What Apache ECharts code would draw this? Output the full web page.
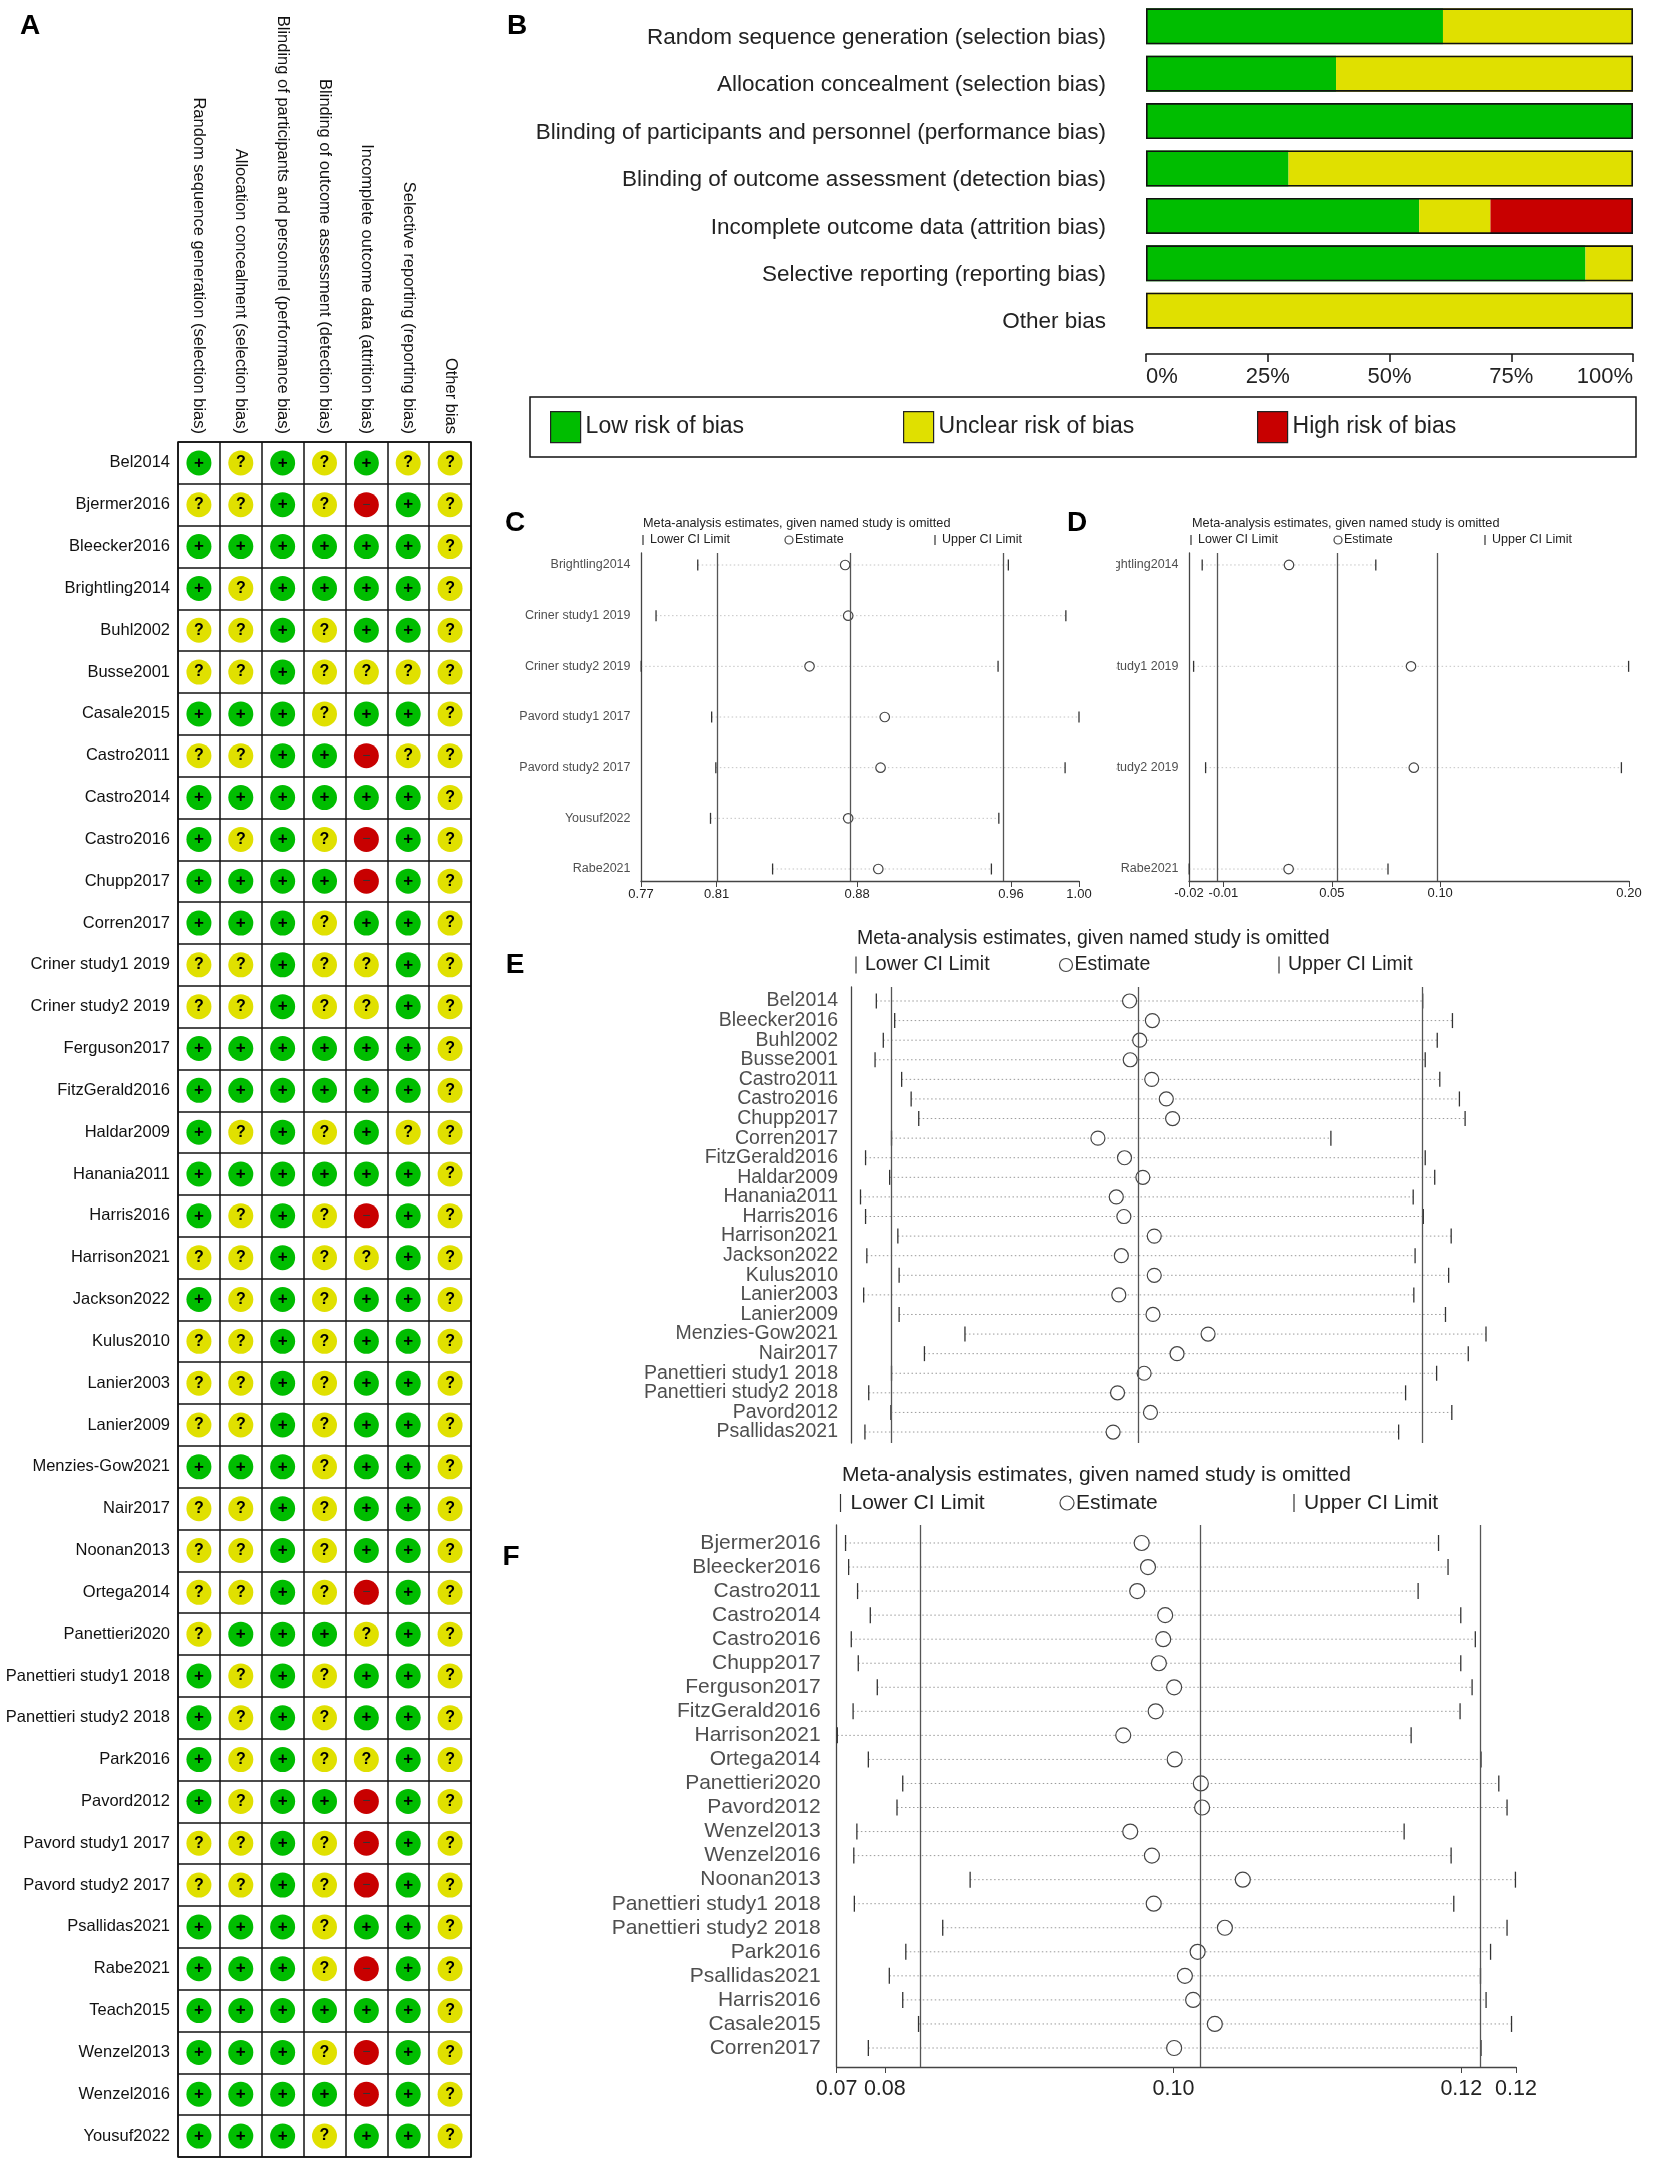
<!DOCTYPE html>
<html><head><meta charset="utf-8">
<script src="https://cdn.jsdelivr.net/npm/echarts@6/dist/echarts.min.js"></script>
<style>
html,body{margin:0;padding:0;background:#fff;}
#main{position:absolute;left:0;top:0;width:1654px;height:2168px;}
#panelD{position:absolute;left:1116px;top:500px;width:538px;height:420px;}
</style>
</head><body>
<div id="main"></div><div id="panelD"></div>
<script>
const FONT = "'Liberation Sans', Arial, Helvetica, sans-serif";

// ---------- Panel A / B data ----------
const domains = [
  'Random sequence generation (selection bias)',
  'Allocation concealment (selection bias)',
  'Blinding of participants and personnel (performance bias)',
  'Blinding of outcome assessment (detection bias)',
  'Incomplete outcome data (attrition bias)',
  'Selective reporting (reporting bias)',
  'Other bias'
];
const studiesA = ['Bel2014','Bjermer2016','Bleecker2016','Brightling2014','Buhl2002','Busse2001','Casale2015','Castro2011','Castro2014','Castro2016','Chupp2017','Corren2017','Criner study1 2019','Criner study2 2019','Ferguson2017','FitzGerald2016','Haldar2009','Hanania2011','Harris2016','Harrison2021','Jackson2022','Kulus2010','Lanier2003','Lanier2009','Menzies-Gow2021','Nair2017','Noonan2013','Ortega2014','Panettieri2020','Panettieri study1 2018','Panettieri study2 2018','Park2016','Pavord2012','Pavord study1 2017','Pavord study2 2017','Psallidas2021','Rabe2021','Teach2015','Wenzel2013','Wenzel2016','Yousuf2022'];
// + low, ? unclear, - high (one character per domain)
const riskA = ['+?+?+??','??+?-+?','++++++?','+?++++?','??+?++?','??+????','+++?++?','??++-??','++++++?','+?+?-+?','++++-+?','+++?++?','??+??+?','??+??+?','++++++?','++++++?','+?+?+??','++++++?','+?+?-+?','??+??+?','+?+?++?','??+?++?','??+?++?','??+?++?','+++?++?','??+?++?','??+?++?','??+?-+?','?+++?+?','+?+?++?','+?+?++?','+?+??+?','+?++-+?','??+?-+?','??+?-+?','+++?++?','+++?-+?','++++++?','+++?-+?','++++-+?','+++?++?'];
const riskNames = ['Low risk of bias','Unclear risk of bias','High risk of bias'];
const riskCodes = ['+','?','-'];
const riskColors = ['#00bd00','#e0e000','#c80000'];
const lowPct = [60.98, 39.02, 100, 29.27, 56.10, 90.24, 0];
const unclearPct = [39.02, 60.98, 0, 70.73, 14.63, 9.76, 100];
const highPct = [0, 0, 0, 0, 29.27, 0, 0];

// ---------- Panel C ----------
const studiesC = ['Brightling2014','Criner study1 2019','Criner study2 2019','Pavord study1 2017','Pavord study2 2017','Yousuf2022','Rabe2021'];
const lowerC = [0.7998, 0.7779, 0.7701, 0.8071, 0.8093, 0.8065, 0.8391];
const estC   = [0.8772, 0.8788, 0.8585, 0.8980, 0.8958, 0.8788, 0.8946];
const upperC = [0.9629, 0.9931, 0.9575, 1.0000, 0.9927, 0.9579, 0.9540];
const overallC = [0.8097, 0.8835, 0.9643];
const ticksC = [0.77, 0.8097, 0.8835, 0.9643, 1.00];

// ---------- Panel D ----------
const studiesD = ['Brightling2014','Criner study1 2019','Criner study2 2019','Rabe2021'];
const lowerD = [-0.0174, -0.0217, -0.0157, -0.0239];
const estD   = [0.0260, 0.0870, 0.0884, 0.0258];
const upperD = [0.0694, 0.1958, 0.1922, 0.0755];
const overallD = [-0.0068, 0.0474, 0.1016];
const ticksD = [-0.024, -0.0068, 0.0474, 0.1016, 0.196];

// ---------- Panel E (no axis labels in the source; relative units) ----------
const studiesE = ['Bel2014','Bleecker2016','Buhl2002','Busse2001','Castro2011','Castro2016','Chupp2017','Corren2017','FitzGerald2016','Haldar2009','Hanania2011','Harris2016','Harrison2021','Jackson2022','Kulus2010','Lanier2003','Lanier2009','Menzies-Gow2021','Nair2017','Panettieri study1 2018','Panettieri study2 2018','Pavord2012','Psallidas2021'];
const lowerE = [0.607,0.636,0.618,0.605,0.647,0.662,0.674,0.631,0.590,0.628,0.582,0.590,0.641,0.592,0.643,0.587,0.643,0.747,0.683,0.631,0.595,0.630,0.589];
const estE   = [1.007,1.043,1.023,1.008,1.042,1.065,1.075,0.957,0.999,1.028,0.986,0.998,1.046,0.994,1.046,0.990,1.044,1.131,1.082,1.030,0.988,1.040,0.981];
const upperE = [1.470,1.517,1.493,1.474,1.497,1.528,1.537,1.325,1.474,1.489,1.455,1.471,1.515,1.458,1.511,1.456,1.506,1.570,1.542,1.492,1.443,1.516,1.432];
const overallE = [0.634, 1.025, 1.474];

// ---------- Panel F ----------
const studiesF = ['Bjermer2016','Bleecker2016','Castro2011','Castro2014','Castro2016','Chupp2017','Ferguson2017','FitzGerald2016','Harrison2021','Ortega2014','Panettieri2020','Pavord2012','Wenzel2013','Wenzel2016','Noonan2013','Panettieri study1 2018','Panettieri study2 2018','Park2016','Psallidas2021','Harris2016','Casale2015','Corren2017'];
const lowerF = [0.07464,0.07486,0.07550,0.07641,0.07505,0.07555,0.07691,0.07518,0.07405,0.07627,0.07873,0.07832,0.07545,0.07523,0.08355,0.07527,0.08159,0.07895,0.07777,0.07873,0.07986,0.07627];
const estF   = [0.09582,0.09627,0.09550,0.09750,0.09736,0.09705,0.09814,0.09682,0.09450,0.09818,0.10005,0.10014,0.09500,0.09655,0.10305,0.09668,0.10177,0.09982,0.09891,0.09950,0.10105,0.09814];
const upperF = [0.11705,0.11773,0.11559,0.11864,0.11968,0.11864,0.11945,0.11859,0.11509,0.12009,0.12136,0.12195,0.11459,0.11795,0.12255,0.11814,0.12195,0.12077,0.12005,0.12045,0.12227,0.12009];
const overallF = [0.07745, 0.09809, 0.11868];
const ticksF = [0.0740, 0.07745, 0.09809, 0.11868, 0.12259];

// ---------- helpers ----------
function ciRender(tickH, dotColor) {
  return function (params, api) {
    const y = api.value(2);
    const a = api.coord([api.value(0), y]);
    const b = api.coord([api.value(1), y]);
    return { type: 'group', children: [
      { type: 'line', shape: { x1: a[0], y1: a[1], x2: b[0], y2: b[1] }, style: { stroke: dotColor, lineWidth: 1, lineDash: [1.5, 2.5] } },
      { type: 'line', shape: { x1: a[0], y1: a[1] - tickH / 2, x2: a[0], y2: a[1] + tickH / 2 }, style: { stroke: '#333', lineWidth: 1.3 } },
      { type: 'line', shape: { x1: b[0], y1: b[1] - tickH / 2, x2: b[0], y2: b[1] + tickH / 2 }, style: { stroke: '#333', lineWidth: 1.3 } }
    ]};
  };
}
function forestX(gi, c) {
  return { type: 'value', gridIndex: gi, min: c.min, max: c.max, show: c.showX !== false,
    axisLine: { show: true, onZero: false, lineStyle: { color: '#444', width: 1.3 } },
    axisTick: { show: true, customValues: c.ticks, length: 6, lineStyle: { color: '#444' } },
    axisLabel: { show: true, customValues: c.ticks, formatter: v => Number(v).toFixed(2), fontSize: c.tickFs, color: '#222', fontFamily: FONT, margin: c.tickMargin },
    splitLine: { show: false } };
}
function forestY(gi, c) {
  return { type: 'value', gridIndex: gi, inverse: true, min: c.yMin, max: c.yMax,
    axisLine: { show: true, onZero: false, lineStyle: { color: '#444', width: 1.3 } },
    axisTick: { show: false }, axisLabel: { show: false }, splitLine: { show: false } };
}
function forestSeries(xi, yi, c) {
  const ci = c.names.map((n, i) => [c.lower[i], c.upper[i], i]);
  const est = c.names.map((n, i) => [c.est[i], i]);
  const lab = c.names.map((n, i) => [c.min, i, n]);
  return [
    { type: 'custom', xAxisIndex: xi, yAxisIndex: yi, data: ci, encode: { x: [0, 1], y: 2 }, renderItem: ciRender(c.tickH, c.dot), silent: true, clip: false, z: 2 },
    { type: 'scatter', xAxisIndex: xi, yAxisIndex: yi, data: est, symbol: 'circle', symbolSize: c.circle, silent: true, z: 4,
      itemStyle: { color: '#fff', borderColor: '#444', borderWidth: 1.2, opacity: 1 },
      markLine: { silent: true, symbol: ['none', 'none'], label: { show: false }, animation: false,
        lineStyle: { color: '#555', width: 1.3, type: 'solid' }, data: c.overall.map(v => ({ xAxis: v })) } },
    { type: 'scatter', xAxisIndex: xi, yAxisIndex: yi, data: lab, symbolSize: 1, silent: true, itemStyle: { color: 'rgba(0,0,0,0)' },
      label: { show: true, position: 'left', distance: c.labDist, formatter: p => p.data[2], fontSize: c.labFs, color: '#222', fontFamily: FONT } }
  ];
}
function txt(x, y, s, fs, extra) {
  return { type: 'text', x: x, y: y, silent: true, z: 10,
    style: Object.assign({ text: s, fill: '#222', fontSize: fs, fontFamily: FONT, align: 'left', verticalAlign: 'middle', textAlign: 'left', textVerticalAlign: 'middle' }, extra || {}) };
}
function vline(x, y, h, w) {
  return { type: 'line', silent: true, z: 10, shape: { x1: x, y1: y - h / 2, x2: x, y2: y + h / 2 }, style: { stroke: '#333', lineWidth: w || 1.2 } };
}
function forestHeader(h) {
  return [
    txt(h.tx, h.ty, 'Meta-analysis estimates, given named study is omitted', h.tfs),
    vline(h.lx, h.ly, h.lh), txt(h.lx + h.gap, h.ly, 'Lower CI Limit', h.lfs),
    { type: 'circle', silent: true, z: 10, shape: { cx: h.cx, cy: h.ly, r: h.r }, style: { fill: '#fff', stroke: '#444', lineWidth: 1.2 } },
    txt(h.cx + h.r + 2, h.ly, 'Estimate', h.lfs),
    vline(h.ux, h.ly, h.lh), txt(h.ux + h.gap, h.ly, 'Upper CI Limit', h.lfs)
  ];
}
function letter(x, y, s) {
  return txt(x, y, s, 28, { fontWeight: 'bold', fill: '#000', align: 'center', textAlign: 'center' });
}

// ---------- configs ----------
const cfgC = { names: studiesC, lower: lowerC, est: estC, upper: upperC, overall: overallC, ticks: ticksC,
  min: 0.77, max: 1.00, yMin: -0.237, yMax: 6.237, tickFs: 13, tickMargin: 7, tickH: 11, dot: '#c4c4c4', circle: 9.5, labDist: 10, labFs: 12.5 };
const cfgD = { names: studiesD, lower: lowerD, est: estD, upper: upperD, overall: overallD, ticks: ticksD,
  min: -0.024, max: 0.196, yMin: -0.118, yMax: 3.118, tickFs: 13, tickMargin: 6, tickH: 11, dot: '#c4c4c4', circle: 9.5, labDist: 10, labFs: 12.5 };
const cfgE = { names: studiesE, lower: lowerE, est: estE, upper: upperE, overall: overallE, ticks: [],
  min: 0.567, max: 1.570, yMin: -0.714, yMax: 22.56, showX: false, tickFs: 19, tickMargin: 8, tickH: 15, dot: '#9a9a9a', circle: 14, labDist: 12.5, labFs: 19.5 };
const cfgF = { names: studiesF, lower: lowerF, est: estF, upper: upperF, overall: overallF, ticks: ticksF,
  min: 0.0740, max: 0.12259, yMin: -0.748, yMax: 21.79, tickFs: 21.5, tickMargin: 11, tickH: 16, dot: '#9a9a9a', circle: 15, labDist: 15.5, labFs: 21 };

// ---------- Panel A series ----------
const glyphs = ['+', '?', '\u2212'];
const seriesA = riskCodes.map((code, k) => {
  const data = [];
  riskA.forEach((row, r) => { row.split('').forEach((ch, c) => { if (ch === code) data.push([c, r]); }); });
  return { type: 'scatter', name: riskNames[k], xAxisIndex: 0, yAxisIndex: 0, data: data, symbol: 'circle', symbolSize: 25, silent: true,
    itemStyle: { color: riskColors[k], opacity: 1 },
    label: { show: true, position: 'inside', formatter: glyphs[k], color: k === 2 ? '#333' : '#000', fontWeight: k === 2 ? 'normal' : 'bold', fontSize: k === 0 ? 17 : (k === 1 ? 16 : 14), fontFamily: FONT } };
});

// ---------- Panel B series ----------
const seriesB = [lowPct, unclearPct, highPct].map((vals, k) => ({
  type: 'bar', name: riskNames[k], xAxisIndex: 1, yAxisIndex: 1, stack: 'rob', barWidth: 36, barGap: '-100%', silent: true,
  itemStyle: { color: riskColors[k] }, data: vals }));
seriesB.push({ type: 'bar', name: 'outline', xAxisIndex: 1, yAxisIndex: 1, barWidth: 36, barGap: '-100%', silent: true, z: 5,
  itemStyle: { color: 'rgba(0,0,0,0)', borderColor: '#111', borderWidth: 1.6 }, data: domains.map(() => 100) });

const option = {
  animation: false,
  backgroundColor: '#fff',
  textStyle: { fontFamily: FONT },
  grid: [
    { left: 178, top: 442, width: 293, height: 1715, show: true, borderColor: '#111', borderWidth: 1.5, backgroundColor: '#fff', outerBoundsMode: 'none' },
    { left: 1146, top: 2.6, width: 487, height: 331.8, outerBoundsMode: 'none' },
    { left: 641, top: 553, width: 438, height: 328, outerBoundsMode: 'none' },
    { left: 851, top: 987, width: 635, height: 456, outerBoundsMode: 'none' },
    { left: 836.6, top: 1525, width: 679.4, height: 542, outerBoundsMode: 'none' }
  ],
  xAxis: [
    { type: 'category', gridIndex: 0, position: 'top', data: domains, axisLine: { show: false }, axisTick: { show: false },
      axisLabel: { interval: 0, rotate: 90, fontSize: 16.5, color: '#111', fontFamily: FONT, margin: 8 },
      splitLine: { show: true, interval: 0, lineStyle: { color: '#111', width: 1.5 } } },
    { type: 'value', gridIndex: 1, min: 0, max: 100, interval: 25, offset: 19.6,
      axisLine: { show: true, lineStyle: { color: '#111', width: 1.5 } }, axisTick: { show: true, length: 8, lineStyle: { color: '#111', width: 1.5 } },
      axisLabel: { formatter: '{value}%', fontSize: 22, color: '#222', fontFamily: FONT, margin: 12, alignMinLabel: 'left', alignMaxLabel: 'right' },
      splitLine: { show: false } },
    { type: 'value', gridIndex: 1, min: 0, max: 100, interval: 25, offset: 19.6,
      axisLine: { show: false }, axisTick: { show: true, inside: true, length: 8, lineStyle: { color: '#111', width: 1.5 } },
      axisLabel: { show: false }, splitLine: { show: false } },
    forestX(2, cfgC),
    forestX(3, cfgE),
    forestX(4, cfgF)
  ],
  yAxis: [
    { type: 'category', gridIndex: 0, inverse: true, data: studiesA, axisLine: { show: false }, axisTick: { show: false },
      axisLabel: { interval: 0, fontSize: 16.5, color: '#111', fontFamily: FONT, margin: 8 },
      splitLine: { show: true, interval: 0, lineStyle: { color: '#111', width: 1.5 } } },
    { type: 'category', gridIndex: 1, inverse: true, data: domains, axisLine: { show: false }, axisTick: { show: false },
      axisLabel: { interval: 0, fontSize: 22.5, color: '#222', fontFamily: FONT, margin: 40, verticalAlign: 'top', lineHeight: 23 } },
    forestY(2, cfgC),
    forestY(3, cfgE),
    forestY(4, cfgF)
  ],
  legend: riskNames.map((n, i) => ({
    data: [n], left: [550, 903, 1257][i], top: 411, orient: 'horizontal', icon: 'rect', itemWidth: 30, itemHeight: 31, padding: 0,
    selectedMode: false, itemStyle: { borderColor: '#222', borderWidth: 1.2 },
    textStyle: { fontSize: 23, color: '#222', fontFamily: FONT }
  })),
  graphic: [].concat(
    [letter(30, 26, 'A'), letter(517, 26, 'B'), letter(515, 523, 'C'), letter(1077, 523, 'D'), letter(515, 965, 'E'), letter(511, 1557, 'F')],
    [{ type: 'rect', silent: true, z: 1, shape: { x: 530, y: 397, width: 1106, height: 60 }, style: { fill: 'none', stroke: '#111', lineWidth: 1.5 } }],
    forestHeader({ tx: 643, ty: 523, tfs: 12.7, lx: 643, ly: 540, lh: 10, gap: 7, lfs: 12.5, cx: 789, r: 4, ux: 935 }),
    forestHeader({ tx: 1192, ty: 523, tfs: 12.7, lx: 1191, ly: 540, lh: 10, gap: 7, lfs: 12.5, cx: 1338, r: 4, ux: 1485 }),
    forestHeader({ tx: 857, ty: 939, tfs: 19.5, lx: 856, ly: 965, lh: 17, gap: 9, lfs: 19.5, cx: 1066, r: 6.5, ux: 1279 }),
    forestHeader({ tx: 842, ty: 1475, tfs: 21, lx: 840.5, ly: 1503, lh: 18, gap: 10, lfs: 21, cx: 1067, r: 7, ux: 1294 })
  ),
  series: [].concat(seriesA, seriesB, forestSeries(3, 2, cfgC), forestSeries(4, 3, cfgE), forestSeries(5, 4, cfgF))
};

const chart = echarts.init(document.getElementById('main'), null, { renderer: 'canvas' });
chart.setOption(option);

const optionD = {
  animation: false,
  textStyle: { fontFamily: FONT },
  grid: [{ left: 73, top: 53, width: 440, height: 328, outerBoundsMode: 'none' }],
  xAxis: [forestX(0, cfgD)],
  yAxis: [forestY(0, cfgD)],
  series: forestSeries(0, 0, cfgD)
};
const chartD = echarts.init(document.getElementById('panelD'), null, { renderer: 'canvas' });
chartD.setOption(optionD);
</script>
</body></html>
